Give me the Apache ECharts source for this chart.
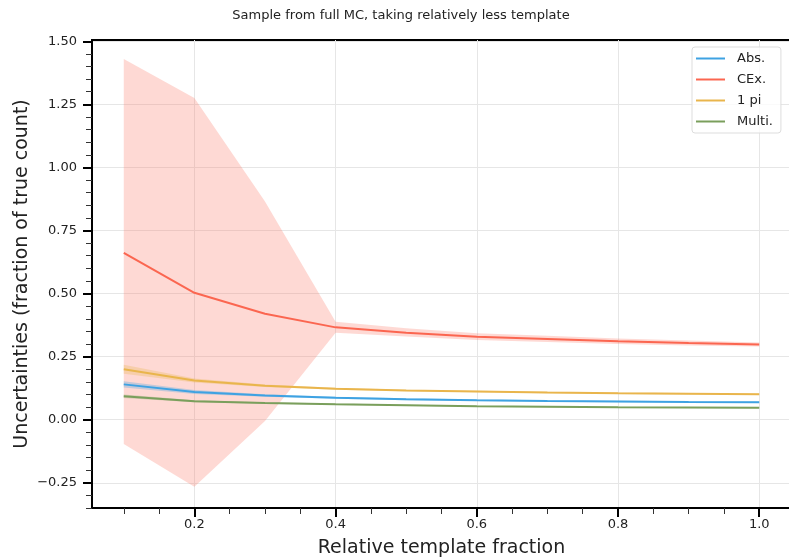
<!DOCTYPE html>
<html>
<head>
<meta charset="utf-8">
<script src="https://cdn.jsdelivr.net/npm/echarts@6/dist/echarts.min.js"></script>
<style>html,body{margin:0;padding:0;background:#fff}#c{width:789px;height:558px}</style>
</head>
<body>
<div id="c"></div>
<script>
// ---- data ----
var xs = [0.1, 0.2, 0.3, 0.4, 0.5, 0.6, 0.7, 0.8, 0.9, 1.0];
var absMean  = [0.140, 0.110, 0.096, 0.087, 0.081, 0.077, 0.074, 0.072, 0.070, 0.069];
var absLow   = [0.128, 0.102, 0.091, 0.083, 0.077, 0.074, 0.071, 0.069, 0.067, 0.066];
var absHigh  = [0.152, 0.118, 0.101, 0.091, 0.085, 0.080, 0.077, 0.075, 0.073, 0.072];
var cexMean  = [0.661, 0.503, 0.420, 0.366, 0.345, 0.329, 0.320, 0.311, 0.304, 0.298];
var cexLow   = [-0.096, -0.266, -0.005, 0.345, 0.330, 0.316, 0.308, 0.300, 0.294, 0.290];
var cexHigh  = [1.430, 1.275, 0.865, 0.388, 0.362, 0.343, 0.333, 0.322, 0.314, 0.306];
var piMean   = [0.200, 0.155, 0.135, 0.123, 0.116, 0.112, 0.108, 0.105, 0.103, 0.101];
var piLow    = [0.182, 0.147, 0.130, 0.119, 0.113, 0.109, 0.105, 0.102, 0.100, 0.098];
var piHigh   = [0.218, 0.163, 0.140, 0.127, 0.119, 0.115, 0.111, 0.108, 0.106, 0.104];
var multiMean= [0.093, 0.073, 0.066, 0.061, 0.057, 0.053, 0.051, 0.049, 0.048, 0.047];
var multiLow = [0.086, 0.069, 0.063, 0.058, 0.055, 0.051, 0.049, 0.047, 0.046, 0.045];
var multiHigh= [0.100, 0.077, 0.069, 0.064, 0.059, 0.055, 0.053, 0.051, 0.050, 0.049];
var seriesNames = ['Abs.', 'CEx.', '1 pi', 'Multi.'];
var yMajorTicks = [-0.25, 0.0, 0.25, 0.5, 0.75, 1.0, 1.25, 1.5];
var yMinorTicks = [-0.35, -0.3, -0.2, -0.15, -0.1, -0.05, 0.05, 0.1, 0.15, 0.2, 0.3, 0.35, 0.4, 0.45, 0.55, 0.6, 0.65, 0.7, 0.8, 0.85, 0.9, 0.95, 1.05, 1.1, 1.15, 1.2, 1.3, 1.35, 1.4, 1.45];
var xMajorTicks = [0.2, 0.4, 0.6, 0.8, 1.0];
var xMinorTicks = [0.1, 0.15, 0.25, 0.3, 0.35, 0.45, 0.5, 0.55, 0.65, 0.7, 0.75, 0.85, 0.9, 0.95];

var colors = {'Abs.': '#3ea2e2', 'CEx.': '#fb6650', '1 pi': '#e9b54c', 'Multi.': '#7a9f5c'};
var bandColors = {'Abs.': 'rgba(62,162,226,0.3)', 'CEx.': 'rgba(252,120,100,0.28)', '1 pi': 'rgba(233,181,76,0.3)', 'Multi.': 'rgba(122,159,92,0.3)'};

function pairs(arr) { return xs.map(function (x, i) { return [x, arr[i]]; }); }

var FONT = 'DejaVu Sans';
var bands = [['CEx.', cexLow, cexHigh], ['Abs.', absLow, absHigh], ['1 pi', piLow, piHigh], ['Multi.', multiLow, multiHigh]];
var lines = [['Abs.', absMean], ['CEx.', cexMean], ['1 pi', piMean], ['Multi.', multiMean]];

var series = [];
bands.forEach(function (b) {
  var lo = b[1], hi = b[2], fill = bandColors[b[0]];
  series.push({
    type: 'custom', name: b[0] + ' band', coordinateSystem: 'cartesian2d', silent: true, z: 1,
    data: xs.map(function (x, i) { return [x, lo[i], hi[i]]; }),
    encode: {x: 0, y: [1, 2]},
    renderItem: function (params, api) {
      if (params.dataIndex !== 0) return null;
      var pts = [];
      for (var i = 0; i < xs.length; i++) pts.push(api.coord([xs[i], hi[i]]));
      for (var j = xs.length - 1; j >= 0; j--) pts.push(api.coord([xs[j], lo[j]]));
      return {type: 'polygon', shape: {points: pts}, style: {fill: fill, stroke: null}};
    }
  });
});
lines.forEach(function (l) {
  series.push({
    type: 'line', name: l[0], data: pairs(l[1]), symbol: 'none',
    lineStyle: {color: colors[l[0]], width: 2}, itemStyle: {color: colors[l[0]]}, z: 3
  });
});

var chart = echarts.init(document.getElementById('c'), null, {renderer: 'canvas'});
chart.setOption({
  animation: false,
  backgroundColor: '#fff',
  textStyle: {fontFamily: FONT},
  graphic: [{
    type: 'text', x: 401, y: 16, style: {text: 'Sample from full MC, taking relatively less template',
      font: '13px "DejaVu Sans"', fill: '#222', textAlign: 'center', textVerticalAlign: 'middle'}
  }],
  grid: {left: 92, top: 40, width: 699, height: 468, show: true, borderColor: '#000', borderWidth: 2,
    backgroundColor: 'transparent', containLabel: false, outerBoundsMode: 'none'},
  legend: {
    data: seriesNames.map(function (n) { return {name: n, icon: 'rect'}; }),
    orient: 'vertical', left: 692, top: 47, itemWidth: 29, itemHeight: 2, itemGap: 6,
    padding: [4, 8, 4, 4], borderColor: '#ddd', borderWidth: 1, borderRadius: 3, backgroundColor: 'rgba(255,255,255,0.8)',
    textStyle: {fontFamily: FONT, fontSize: 13, color: '#222', lineHeight: 15, padding: [0, 0, 0, 7]}
  },
  xAxis: [{
    type: 'value', min: 0.055, max: 1.045, gridIndex: 0,
    name: 'Relative template fraction', nameLocation: 'middle', nameGap: 31, nameMoveOverlap: false,
    nameTextStyle: {fontFamily: FONT, fontSize: 19, color: '#222'},
    axisLine: {show: true, onZero: false, lineStyle: {color: '#000', width: 2}},
    axisTick: {show: true, length: 9, lineStyle: {color: '#000', width: 2}, customValues: xMajorTicks},
    axisLabel: {customValues: xMajorTicks, margin: 10, fontFamily: FONT, fontSize: 13, color: '#222',
      formatter: function (v) { return v.toFixed(1); }},
    splitLine: {show: true, lineStyle: {color: '#e6e6e6', width: 1}}
  }, {
    type: 'value', min: 0.055, max: 1.045, gridIndex: 0, position: 'bottom',
    axisLine: {show: false, onZero: false},
    axisTick: {show: true, length: 6, lineStyle: {color: '#333', width: 1}, customValues: xMinorTicks},
    axisLabel: {show: false}, splitLine: {show: false}
  }],
  yAxis: [{
    type: 'value', min: -0.35, max: 1.505, gridIndex: 0,
    name: 'Uncertainties (fraction of true count)', nameLocation: 'middle', nameGap: 60, nameMoveOverlap: false,
    nameTextStyle: {fontFamily: FONT, fontSize: 19, color: '#222'},
    axisLine: {show: true, onZero: false, lineStyle: {color: '#000', width: 2}},
    axisTick: {show: true, length: 9, lineStyle: {color: '#000', width: 2}, customValues: yMajorTicks},
    axisLabel: {customValues: yMajorTicks, margin: 15, fontFamily: FONT, fontSize: 13, color: '#222',
      formatter: function (v) { var s = Math.abs(v).toFixed(2); return v < 0 ? '\u2212' + s : s; }},
    splitLine: {show: true, lineStyle: {color: '#e6e6e6', width: 1}}
  }, {
    type: 'value', min: -0.35, max: 1.505, gridIndex: 0, position: 'left',
    axisLine: {show: false, onZero: false},
    axisTick: {show: true, length: 6, lineStyle: {color: '#333', width: 1}, customValues: yMinorTicks},
    axisLabel: {show: false}, splitLine: {show: false}
  }],
  series: series
});
</script>
</body>
</html>
